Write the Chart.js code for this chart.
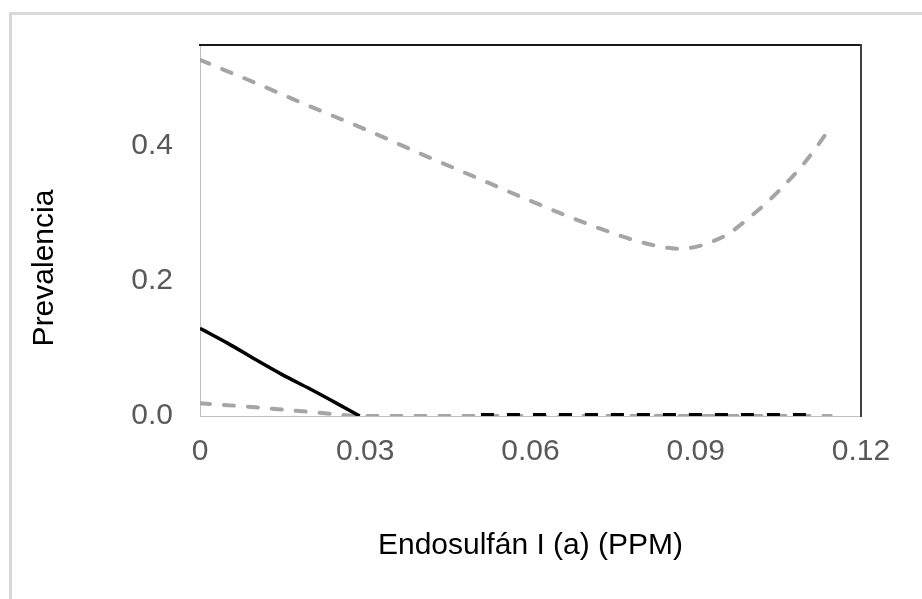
<!DOCTYPE html>
<html>
<head>
<meta charset="utf-8">
<script src="https://cdn.jsdelivr.net/npm/chart.js@4.4.1/dist/chart.umd.min.js"></script>
<style>
  html, body { margin: 0; padding: 0; background: #fff; }
  #wrap { position: relative; width: 922px; height: 599px; overflow: hidden; }
  #frame { position: absolute; left: 9px; top: 12px; width: 1000px; height: 1000px; border: 3px solid #d9d9d9; box-sizing: border-box; }
  #chart { position: absolute; left: 0; top: 0; }
</style>
</head>
<body>
<div id="wrap">
  <div id="frame"></div>
  <canvas id="chart" width="922" height="599"></canvas>
</div>
<script>
// axis ticks and titles
const xTicks = [0, 0.03, 0.06, 0.09, 0.12];
const yTicks = [0, 0.2, 0.4];
const xTitle = 'Endosulfán I (a) (PPM)';
const yTitle = 'Prevalencia';

// upper gray dashed curve
const upperX = [0, 0.01, 0.02, 0.03, 0.04, 0.05, 0.06, 0.07, 0.08, 0.087, 0.095, 0.10, 0.105, 0.11, 0.1145];
const upperY = [0.528, 0.494, 0.459, 0.425, 0.389, 0.354, 0.319, 0.286, 0.258, 0.248, 0.266, 0.296, 0.333, 0.378, 0.428];

// lower gray dashed curve
const lowerX = [0, 0.01, 0.02, 0.03, 0.06, 0.09, 0.1145];
const lowerY = [0.019, 0.013, 0.006, 0, 0, 0, 0];

// black solid curve
const solidX = [0, 0.005, 0.01, 0.015, 0.02, 0.025, 0.029];
const solidY = [0.130, 0.108, 0.084, 0.061, 0.040, 0.018, 0];

// black dashed curve
const dashX = [0.051, 0.07, 0.09, 0.112];
const dashY = [0.002, 0.002, 0.002, 0.002];

const FONT = '"Liberation Sans", Arial, sans-serif';
const pts = (xs, ys) => xs.map((x, i) => ({ x, y: ys[i] }));

const yTitlePlugin = {
  id: 'yTitle',
  afterDraw(chart) {
    const { ctx } = chart;
    ctx.save();
    ctx.translate(45, 268);
    ctx.rotate(-Math.PI / 2);
    ctx.font = '30px ' + FONT;
    ctx.fillStyle = '#000';
    ctx.textAlign = 'center';
    ctx.textBaseline = 'middle';
    ctx.fillText(yTitle, 0, 0);
    ctx.restore();
  }
};

const common = {
  fill: false,
  pointRadius: 0,
  cubicInterpolationMode: 'monotone',
};

new Chart(document.getElementById('chart').getContext('2d'), {
  type: 'line',
  data: {
    datasets: [
      { ...common, data: pts(dashX, dashY), borderColor: '#000', borderWidth: 3.5, borderDash: [13, 13] },
      { ...common, data: pts(solidX, solidY), borderColor: '#000', borderWidth: 3.5 },
      { ...common, data: pts(lowerX, lowerY), borderColor: '#a5a5a5', borderWidth: 4, borderDash: [10, 14], borderCapStyle: 'round' },
      { ...common, data: pts(upperX, upperY), borderColor: '#a5a5a5', borderWidth: 4, borderDash: [10, 14], borderCapStyle: 'round' },
    ],
  },
  options: {
    responsive: false,
    animation: false,
    layout: { padding: { left: 0, top: 43, right: 61, bottom: 0 } },
    plugins: { legend: { display: false }, tooltip: { enabled: false } },
    scales: {
      x: {
        type: 'linear',
        min: 0,
        max: 0.12,
        afterBuildTicks: (s) => { s.ticks = xTicks.map(v => ({ value: v })); },
        afterFit: (s) => { s.height = 183; },
        ticks: {
          color: '#595959',
          font: { family: FONT, size: 30 },
          padding: 18,
          maxRotation: 0,
          callback: (v) => v === 0 ? '0' : v.toFixed(2),
        },
        grid: { display: false, drawTicks: false },
        border: { display: true, color: '#bfbfbf', width: 1 },
        title: {
          display: true,
          text: xTitle,
          color: '#000',
          font: { family: FONT, size: 30 },
          padding: { top: 0, bottom: 35 },
        },
      },
      y: {
        type: 'linear',
        min: 0,
        max: 0.55,
        afterBuildTicks: (s) => { s.ticks = yTicks.map(v => ({ value: v })); },
        afterFit: (s) => { s.width = 200; },
        ticks: {
          color: '#595959',
          font: { family: FONT, size: 30 },
          padding: 27,
          callback: (v) => v.toFixed(1),
        },
        grid: { display: false, drawTicks: false },
        border: { display: true, color: '#bfbfbf', width: 1 },
      },
      x2: {
        type: 'linear',
        position: 'top',
        min: 0,
        max: 0.12,
        afterFit: (s) => { s.height = 0; },
        ticks: { display: false },
        grid: { display: false, drawTicks: false },
        border: { display: true, color: '#1a1a1a', width: 2 },
      },
      y2: {
        type: 'linear',
        position: 'right',
        min: 0,
        max: 0.55,
        afterFit: (s) => { s.width = 0; },
        ticks: { display: false },
        grid: { display: false, drawTicks: false },
        border: { display: true, color: '#404040', width: 2 },
      },
    },
  },
  plugins: [yTitlePlugin],
});
</script>
</body>
</html>
